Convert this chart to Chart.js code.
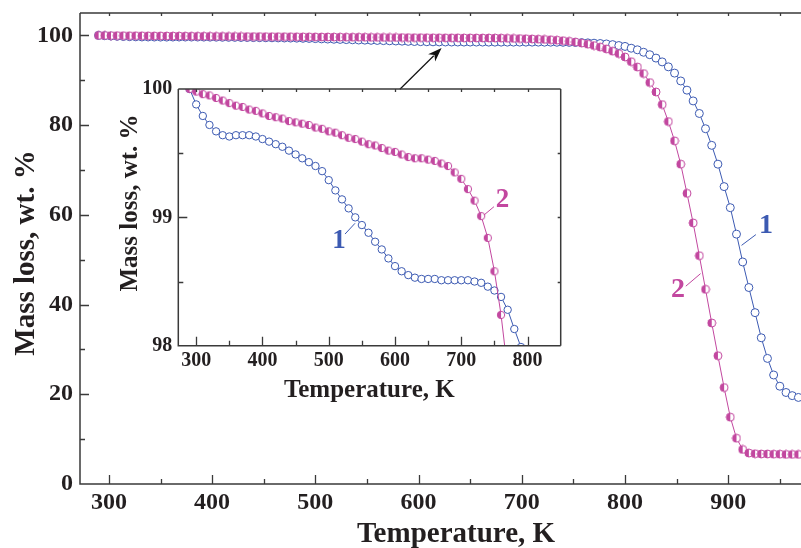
<!DOCTYPE html>
<html>
<head>
<meta charset="utf-8">
<script src="https://cdn.jsdelivr.net/npm/chart.js@4.4.1/dist/chart.umd.min.js"></script>
<style>
  html, body { margin: 0; padding: 0; background: #fff; }
  #wrap { position: relative; width: 801px; height: 548px; overflow: hidden; }
  #main { position: absolute; left: 0; top: 0; }
  #inset { position: absolute; left: 100px; top: 70px; }
</style>
</head>
<body>
<div id="wrap">
  <canvas id="main" width="801" height="548"></canvas>
  <canvas id="inset" width="480" height="340"></canvas>
</div>
<script>
var FONT = "'Liberation Serif', 'Times New Roman', serif";
var INK = '#231f20';
var AXIS = '#3a3a3a';
var BLUE = '#3c5ab2';
var MAGENTA = '#c2479f';

// main panel: temperature (K) and mass (wt. %) of sample 1 and sample 2
var mainTemp = [290, 296, 302, 308, 314, 320, 326, 332, 338, 344, 350, 356, 362, 368, 374, 380, 386, 392, 398, 404,
  410, 416, 422, 428, 434, 440, 446, 452, 458, 464, 470, 476, 482, 488, 494, 500, 506, 512, 518, 524,
  530, 536, 542, 548, 554, 560, 566, 572, 578, 584, 590, 596, 602, 608, 614, 620, 626, 632, 638, 644,
  650, 656, 662, 668, 674, 680, 686, 692, 698, 704, 710, 716, 722, 728, 734, 740, 746, 752, 758, 764,
  770, 776, 782, 788, 794, 800, 806, 812, 818, 824, 830, 836, 842, 848, 854, 860, 866, 872, 878, 884,
  890, 896, 902, 908, 914, 920, 926, 932, 938, 944, 950, 956, 962, 968];
var mainS1 = [100.00, 99.93, 99.86, 99.80, 99.76, 99.72, 99.69, 99.66, 99.65, 99.64, 99.63, 99.63, 99.64, 99.64, 99.64, 99.64, 99.64, 99.63, 99.62, 99.61,
  99.59, 99.58, 99.57, 99.55, 99.54, 99.52, 99.50, 99.48, 99.47, 99.45, 99.43, 99.41, 99.39, 99.36, 99.33, 99.29, 99.23, 99.19, 99.15, 99.11,
  99.07, 99.03, 98.98, 98.95, 98.91, 98.88, 98.84, 98.80, 98.76, 98.72, 98.68, 98.64, 98.61, 98.59, 98.57, 98.55, 98.54, 98.53, 98.53, 98.52,
  98.52, 98.52, 98.52, 98.51, 98.51, 98.51, 98.51, 98.51, 98.51, 98.51, 98.51, 98.51, 98.50, 98.50, 98.48, 98.47, 98.45, 98.43, 98.40, 98.34,
  98.27, 98.20, 98.10, 97.95, 97.75, 97.55, 97.15, 96.80, 96.25, 95.70, 94.95, 94.10, 93.00, 91.60, 89.85, 87.80, 85.40, 82.60, 79.20, 75.50,
  71.30, 66.30, 61.60, 55.70, 49.50, 43.80, 38.20, 32.60, 28.00, 24.30, 21.80, 20.40, 19.70, 19.30];
var mainS2 = [100.00, 99.99, 99.97, 99.96, 99.95, 99.94, 99.93, 99.92, 99.91, 99.90, 99.89, 99.88, 99.87, 99.86, 99.85, 99.84, 99.83, 99.82, 99.81, 99.80,
  99.79, 99.78, 99.78, 99.77, 99.76, 99.75, 99.75, 99.74, 99.73, 99.73, 99.72, 99.71, 99.70, 99.69, 99.68, 99.67, 99.66, 99.65, 99.64, 99.63,
  99.62, 99.61, 99.61, 99.60, 99.58, 99.57, 99.56, 99.55, 99.54, 99.53, 99.52, 99.51, 99.50, 99.49, 99.48, 99.47, 99.46, 99.46, 99.46, 99.45,
  99.45, 99.44, 99.43, 99.43, 99.42, 99.40, 99.37, 99.34, 99.31, 99.27, 99.22, 99.17, 99.12, 99.04, 98.95, 98.84, 98.70, 98.53, 98.30, 98.05,
  97.75, 97.40, 97.00, 96.50, 95.95, 95.20, 94.15, 92.95, 91.50, 89.50, 87.40, 84.60, 80.80, 76.50, 71.30, 64.80, 58.20, 50.90, 43.40, 35.90,
  28.60, 21.50, 14.90, 10.20, 7.70, 6.90, 6.75, 6.70, 6.70, 6.65, 6.65, 6.60, 6.60, 6.60];
var mainXTicks = [300, 400, 500, 600, 700, 800, 900];
var mainXMinor = [350, 450, 550, 650, 750, 850, 950];
var mainYTicks = [0, 20, 40, 60, 80, 100];
var mainYMinor = [10, 30, 50, 70, 90];

// inset: the first 2 % of the loss
var insetTemp = [290, 300, 310, 320, 330, 340, 350, 360, 370, 380, 390, 400, 410, 420, 430, 440, 450, 460, 470, 480,
  490, 500, 510, 520, 530, 540, 550, 560, 570, 580, 590, 600, 610, 620, 630, 640, 650, 660, 670, 680,
  690, 700, 710, 720, 730, 740, 750, 760, 770, 780, 790, 800];
var insetS1 = [100.00, 99.88, 99.79, 99.72, 99.67, 99.64, 99.63, 99.64, 99.64, 99.64, 99.63, 99.61, 99.59, 99.57, 99.55, 99.52, 99.49, 99.46, 99.43, 99.40,
  99.36, 99.29, 99.21, 99.14, 99.07, 99.00, 98.94, 98.88, 98.81, 98.75, 98.68, 98.62, 98.58, 98.55, 98.53, 98.52, 98.52, 98.52, 98.51, 98.51,
  98.51, 98.51, 98.51, 98.50, 98.49, 98.46, 98.43, 98.38, 98.28, 98.13, 97.99, 97.55];
var insetS2 = [100.00, 99.98, 99.96, 99.95, 99.93, 99.91, 99.89, 99.87, 99.86, 99.84, 99.83, 99.81, 99.79, 99.78, 99.77, 99.75, 99.74, 99.73, 99.72, 99.70,
  99.69, 99.67, 99.66, 99.64, 99.62, 99.61, 99.59, 99.57, 99.56, 99.54, 99.52, 99.51, 99.49, 99.47, 99.46, 99.46, 99.45, 99.44, 99.42, 99.40,
  99.35, 99.30, 99.22, 99.13, 99.01, 98.84, 98.58, 98.24, 97.80, 97.10, 96.60, 95.20];
var insetXTicks = [300, 400, 500, 600, 700, 800];
var insetXMinor = [350, 450, 550, 650, 750];
var insetYTicks = [98, 99, 100];
var insetYMinor = [98.5, 99.5];

// curve numbers with their leader lines, in data units
var mainNotes = [
  { text: '1', color: BLUE, at: [936.5, 57.5], from: [912.9, 53.2], to: [926.8, 55.6] },
  { text: '2', color: MAGENTA, at: [851.3, 43.2], from: [873.2, 46.9], to: [858.9, 44.1] }
];
var insetNotes = [
  { text: '1', color: BLUE, at: [515.6, 98.816], from: [539.7, 98.954], to: [524.6, 98.870] },
  { text: '2', color: MAGENTA, at: [762.1, 99.135], from: [734.2, 99.018], to: [749.3, 99.083] }
];
// arrow from the inset to the plateau it enlarges
var mainArrow = { from: [581.9, 88.0], to: [622.3, 97.2] };

function pts(xs, ys) {
  return xs.map(function(x, i) { return { x: x, y: ys[i] }; });
}

// half filled circle marker of sample 2
function halfDot(r, color) {
  var s = Math.ceil(2 * r + 2);
  var c = document.createElement('canvas');
  c.width = s; c.height = s;
  var g = c.getContext('2d');
  var m = s / 2;
  g.beginPath(); g.arc(m, m, r, 0, Math.PI * 2); g.fillStyle = '#fff'; g.fill();
  g.beginPath(); g.moveTo(m, m - r); g.arc(m, m, r, -Math.PI / 2, Math.PI / 2, true); g.closePath();
  g.fillStyle = color; g.fill();
  g.beginPath(); g.arc(m, m, r, 0, Math.PI * 2); g.strokeStyle = color; g.lineWidth = 1; g.stroke();
  return c;
}

function framePlugin(cfg) {
  return {
    id: 'frame',
    afterDraw: function(chart) {
      var ctx = chart.ctx, a = chart.chartArea, xs = chart.scales.x, ys = chart.scales.y;
      ctx.save();
      ctx.strokeStyle = AXIS;
      ctx.lineWidth = 1.5;
      ctx.beginPath();
      ctx.moveTo(a.left, a.top); ctx.lineTo(a.right, a.top);
      ctx.moveTo(a.left, a.top); ctx.lineTo(a.left, a.bottom); ctx.lineTo(a.right, a.bottom);
      if (cfg.right) { ctx.moveTo(a.right, a.top); ctx.lineTo(a.right, a.bottom); }
      ctx.stroke();

      ctx.lineWidth = 1.3;
      ctx.beginPath();
      function vx(list, len, topLen) {
        list.forEach(function(v) {
          var p = Math.round(xs.getPixelForValue(v)) + 0.5;
          if (p < a.left + 1 || p > a.right - 1) return;
          ctx.moveTo(p, a.bottom); ctx.lineTo(p, a.bottom - len);
          ctx.moveTo(p, a.top); ctx.lineTo(p, a.top + topLen);
        });
      }
      function vy(list, len, rightLen) {
        list.forEach(function(v) {
          var p = Math.round(ys.getPixelForValue(v)) + 0.5;
          if (p < a.top + 1 || p > a.bottom - 1) return;
          ctx.moveTo(a.left, p); ctx.lineTo(a.left + len, p);
          if (cfg.right) { ctx.moveTo(a.right, p); ctx.lineTo(a.right - rightLen, p); }
        });
      }
      vx(cfg.xTicks, cfg.major, cfg.edge);
      vx(cfg.xMinor, cfg.minor, cfg.edge);
      vy(cfg.yTicks, cfg.major, cfg.edge);
      vy(cfg.yMinor, cfg.minor, cfg.edge);
      ctx.stroke();

      ctx.fillStyle = INK;
      ctx.textAlign = 'center';
      ctx.textBaseline = 'alphabetic';
      ctx.font = 'bold ' + cfg.titleSize + 'px ' + FONT;
      ctx.fillText(cfg.xTitle, cfg.xTitlePos[0], cfg.xTitlePos[1]);
      ctx.translate(cfg.yTitlePos[0], cfg.yTitlePos[1]);
      ctx.rotate(-Math.PI / 2);
      ctx.fillText(cfg.yTitle, 0, 0);
      ctx.restore();
    }
  };
}

function notesPlugin(notes, size, arrow) {
  return {
    id: 'notes',
    afterDatasetsDraw: function(chart) {
      var ctx = chart.ctx, xs = chart.scales.x, ys = chart.scales.y;
      function px(p) { return [xs.getPixelForValue(p[0]), ys.getPixelForValue(p[1])]; }
      ctx.save();
      notes.forEach(function(n) {
        var f = px(n.from), t = px(n.to), c = px(n.at);
        ctx.strokeStyle = n.color;
        ctx.lineWidth = 1;
        ctx.beginPath(); ctx.moveTo(f[0], f[1]); ctx.lineTo(t[0], t[1]); ctx.stroke();
        ctx.fillStyle = n.color;
        ctx.font = 'bold ' + size + 'px ' + FONT;
        ctx.textAlign = 'center';
        ctx.textBaseline = 'middle';
        ctx.fillText(n.text, c[0], c[1]);
      });
      if (arrow) {
        var a0 = px(arrow.from), a1 = px(arrow.to);
        var ang = Math.atan2(a1[1] - a0[1], a1[0] - a0[0]);
        var hl = 14, hw = 5;
        var bx = a1[0] - hl * Math.cos(ang), by = a1[1] - hl * Math.sin(ang);
        ctx.strokeStyle = '#111';
        ctx.fillStyle = '#111';
        ctx.lineWidth = 1.2;
        ctx.beginPath(); ctx.moveTo(a0[0], a0[1]); ctx.lineTo(bx + 3 * Math.cos(ang), by + 3 * Math.sin(ang)); ctx.stroke();
        ctx.beginPath();
        ctx.moveTo(a1[0], a1[1]);
        ctx.lineTo(bx + hw * Math.sin(ang), by - hw * Math.cos(ang));
        ctx.lineTo(bx + 4 * Math.cos(ang), by + 4 * Math.sin(ang));
        ctx.lineTo(bx - hw * Math.sin(ang), by + hw * Math.cos(ang));
        ctx.closePath();
        ctx.fill();
      }
      ctx.restore();
    }
  };
}

function axis(min, max, list, size, padding, fit) {
  return {
    type: 'linear', min: min, max: max,
    afterBuildTicks: function(s) { s.ticks = list.map(function(v) { return { value: v }; }); },
    afterFit: function(s) {
      fit(s);
      s.paddingTop = 0; s.paddingBottom = 0; s.paddingLeft = 0; s.paddingRight = 0;
    },
    grid: { display: false, drawTicks: false },
    border: { display: false },
    ticks: {
      autoSkip: false,
      maxRotation: 0,
      padding: padding,
      color: INK,
      font: { family: FONT, size: size, weight: 'bold' }
    }
  };
}

function datasets(temp, s1, s2, r) {
  return [{
    data: pts(temp, s2),
    borderColor: MAGENTA,
    borderWidth: 1,
    pointStyle: halfDot(r, MAGENTA),
    pointRadius: r,
    tension: 0
  }, {
    data: pts(temp, s1),
    borderColor: BLUE,
    borderWidth: 1,
    pointStyle: 'circle',
    pointRadius: r,
    pointBackgroundColor: '#fff',
    pointBorderColor: BLUE,
    pointBorderWidth: 1,
    tension: 0
  }];
}

new Chart(document.getElementById('main'), {
  type: 'line',
  data: { datasets: datasets(mainTemp, mainS1, mainS2, 4) },
  options: {
    responsive: false,
    animation: false,
    devicePixelRatio: 1,
    layout: { autoPadding: false, padding: { top: 13, left: 0, right: 0, bottom: 0 } },
    plugins: { legend: { display: false }, tooltip: { enabled: false } },
    scales: {
      x: axis(272, 970.5, mainXTicks, 24, 4, function(s) { s.height = 64; }),
      y: axis(0, 105, mainYTicks, 24, 7, function(s) { s.width = 80; })
    }
  },
  plugins: [
    framePlugin({
      right: false, major: 9, minor: 5, edge: 3,
      xTicks: mainXTicks, xMinor: mainXMinor, yTicks: mainYTicks, yMinor: mainYMinor,
      titleSize: 29, xTitle: 'Temperature, K', xTitlePos: [456, 542],
      yTitle: 'Mass loss, wt. %', yTitlePos: [33.5, 253]
    }),
    notesPlugin(mainNotes, 28, mainArrow)
  ]
});

new Chart(document.getElementById('inset'), {
  type: 'line',
  data: { datasets: datasets(insetTemp, insetS1, insetS2, 3.7) },
  options: {
    responsive: false,
    animation: false,
    devicePixelRatio: 1,
    layout: { autoPadding: false, padding: { top: 19, left: 0, right: 19.3, bottom: 0 } },
    plugins: { legend: { display: false }, tooltip: { enabled: false } },
    scales: {
      x: axis(273, 850, insetXTicks, 20, 3, function(s) { s.height = 64.3; }),
      y: axis(98, 100, insetYTicks, 20, 6, function(s) { s.width = 78.3; })
    }
  },
  plugins: [
    framePlugin({
      right: true, major: 9, minor: 5, edge: 3,
      xTicks: insetXTicks, xMinor: insetXMinor, yTicks: insetYTicks, yMinor: insetYMinor,
      titleSize: 25, xTitle: 'Temperature, K', xTitlePos: [269.3, 326.7],
      yTitle: 'Mass loss, wt. %', yTitlePos: [36.7, 133]
    }),
    notesPlugin(insetNotes, 27, null)
  ]
});
</script>
</body>
</html>
